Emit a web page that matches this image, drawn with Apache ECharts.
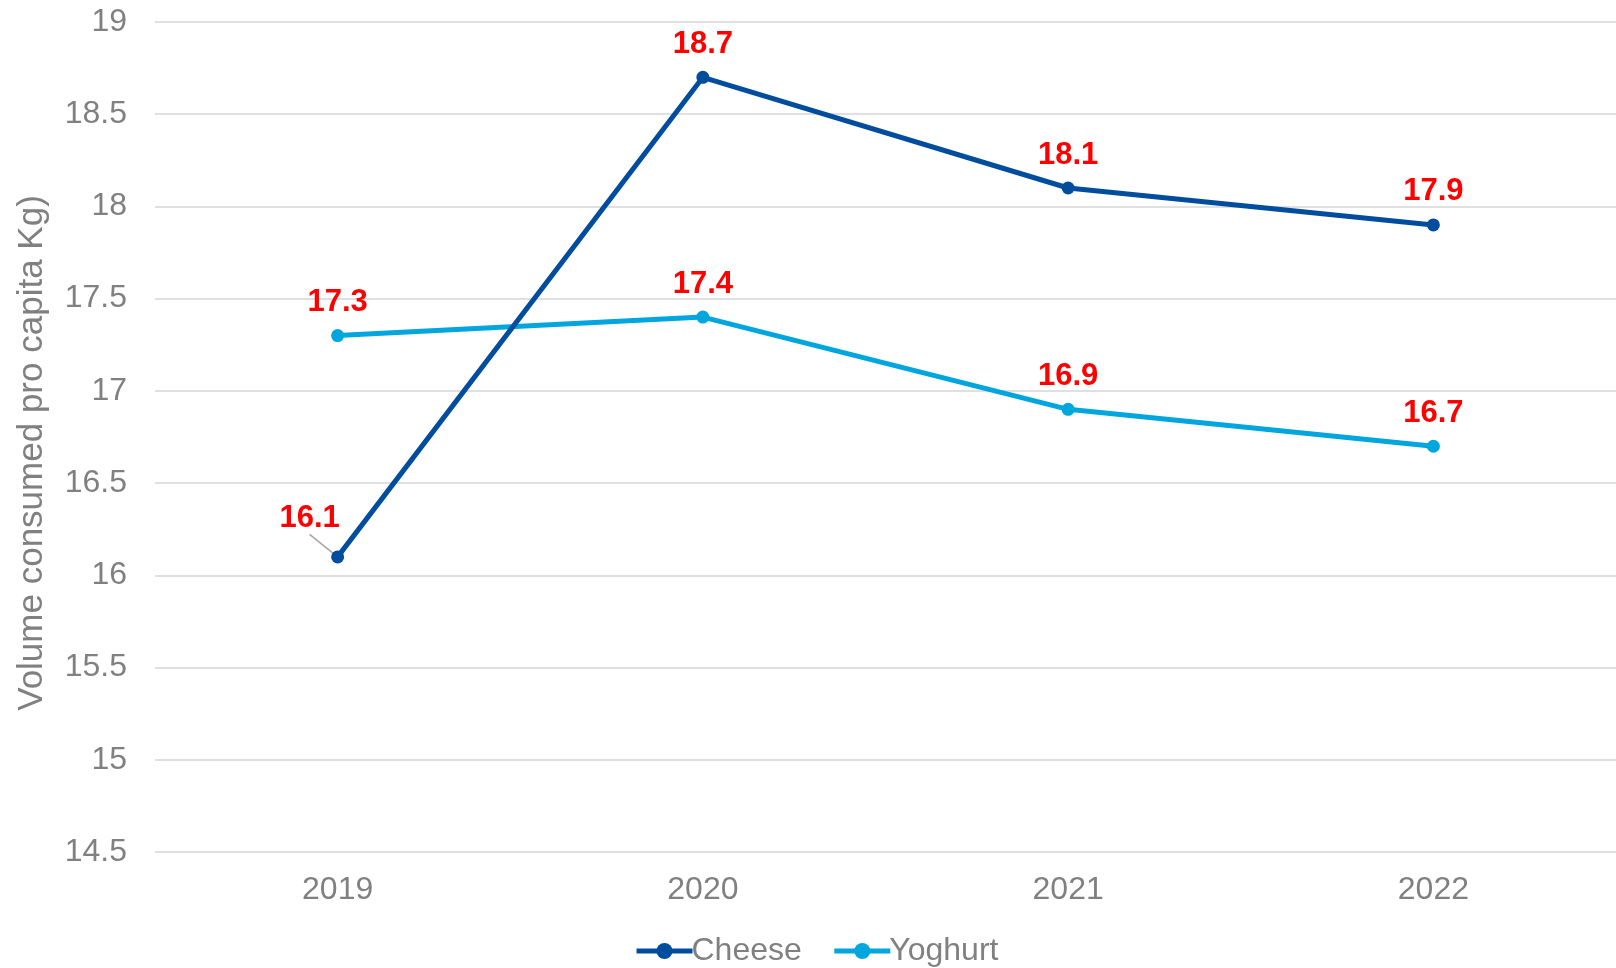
<!DOCTYPE html>
<html>
<head>
<meta charset="utf-8">
<script src="https://cdn.jsdelivr.net/npm/echarts@6/dist/echarts.min.js"></script>
<style>
  html, body { margin: 0; padding: 0; background: #ffffff; }
  #chart { width: 1616px; height: 968px; }
</style>
</head>
<body>
<div id="chart"></div>
<script>
// Per-capita consumption by year (kg)
const years = ['2019', '2020', '2021', '2022'];
const cheese = [16.1, 18.7, 18.1, 17.9];
const yoghurt = [17.3, 17.4, 16.9, 16.7];
const axisTitle = 'Volume consumed pro capita Kg)';

const FONT = '"Liberation Sans", Arial, sans-serif';
const GREY = '#808080';
const CHEESE_BLUE = '#004d9e';
const YOGHURT_BLUE = '#00a6dd';

const chart = echarts.init(document.getElementById('chart'), null, { renderer: 'canvas' });

const valueLabel = {
  show: true,
  position: 'top',
  distance: 11,
  color: '#ff0000',
  fontFamily: FONT,
  fontWeight: 'bold',
  fontSize: 31
};

// the first cheese label sits up-left of its point and gets a leader line
const cheeseData = cheese.map((v, i) =>
  i === 0 ? { value: v, labelLine: { show: true } } : v
);

chart.setOption({
  animation: false,
  backgroundColor: '#ffffff',
  grid: { left: 155, right: 0, top: 22, bottom: 116, containLabel: false },
  legend: {
    top: 935,
    left: 634,
    padding: 0,
    itemWidth: 56,
    itemHeight: 20,
    itemGap: 30,
    lineStyle: { width: 5 },
    textStyle: { color: GREY, fontFamily: FONT, fontSize: 32, padding: [0, 0, 0, -6] },
    data: ['Cheese', 'Yoghurt']
  },
  xAxis: {
    type: 'category',
    data: years,
    boundaryGap: true,
    axisLine: { show: false },
    axisTick: { show: false },
    axisLabel: { color: GREY, fontFamily: FONT, fontSize: 32, margin: 22 }
  },
  yAxis: {
    type: 'value',
    min: 14.5,
    max: 19,
    interval: 0.5,
    name: axisTitle,
    nameLocation: 'middle',
    nameGap: 105,
    nameTextStyle: { color: GREY, fontFamily: FONT, fontSize: 35, padding: [0, 32, 0, 0] },
    axisLine: { show: false },
    axisTick: { show: false },
    splitLine: { lineStyle: { color: '#e0e0e0', width: 2 } },
    axisLabel: { color: GREY, fontFamily: FONT, fontSize: 32, margin: 28 }
  },
  series: [
    {
      name: 'Cheese',
      type: 'line',
      data: cheeseData,
      color: CHEESE_BLUE,
      symbol: 'circle',
      symbolSize: 13,
      lineStyle: { width: 5, color: CHEESE_BLUE },
      itemStyle: { color: CHEESE_BLUE },
      label: valueLabel,
      labelLine: { show: false, lineStyle: { color: '#a6a6a6', width: 1.5 } },
      labelLayout: function (p) {
        if (p.dataIndex === 0) {
          return { dx: -28, dy: -5 };
        }
        return {};
      },
      z: 3
    },
    {
      name: 'Yoghurt',
      type: 'line',
      data: yoghurt,
      color: YOGHURT_BLUE,
      symbol: 'circle',
      symbolSize: 13,
      lineStyle: { width: 5, color: YOGHURT_BLUE },
      itemStyle: { color: YOGHURT_BLUE },
      label: valueLabel,
      z: 2
    }
  ]
});
</script>
</body>
</html>
